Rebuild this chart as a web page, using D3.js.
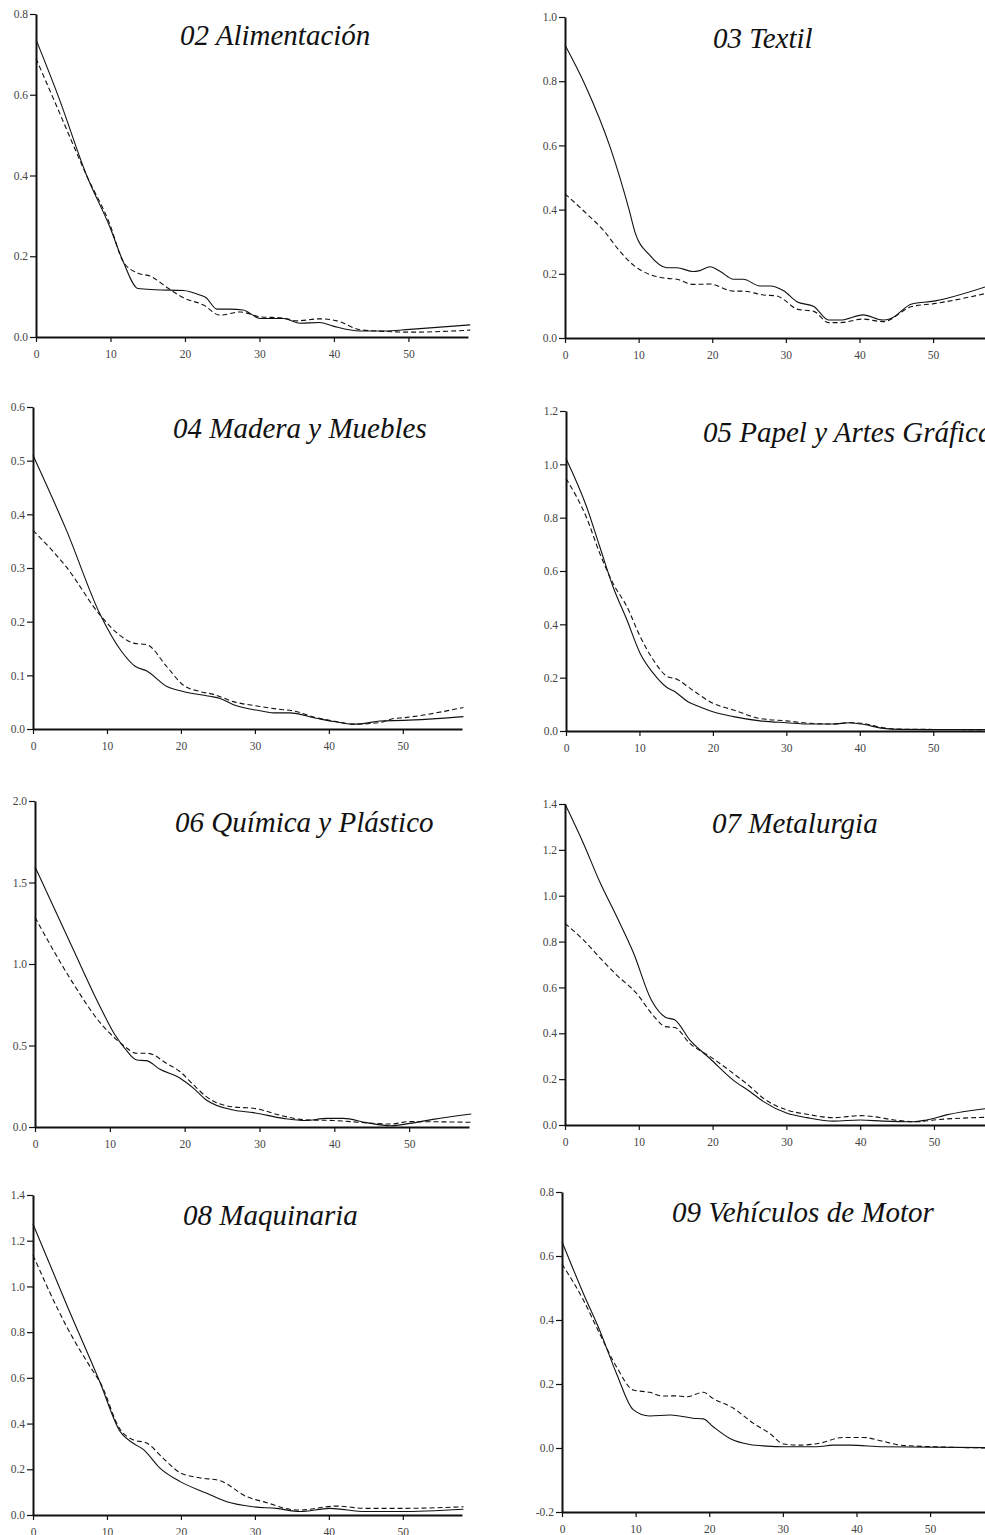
<!DOCTYPE html>
<html>
<head>
<meta charset="utf-8">
<script src="https://cdn.jsdelivr.net/npm/d3@7"></script>
<style>
  body { margin: 0; background: #fff; }
  svg { display: block; }
  .tick text { font-family: "Liberation Serif", "Times New Roman", serif; font-size: 11.5px; fill: #444; }
  .title { font-family: "Liberation Serif", "Times New Roman", serif; font-style: italic; font-size: 29px; fill: #111; }
</style>
</head>
<body>
<div id="chart"></div>
<script>
// Shared x axis ticks (quarters after the shock)
const X_TICKS = [0, 10, 20, 30, 40, 50];
const X_MAX = 58;

// Panel titles
const TITLES = [
    "02 Alimentación", "03 Textil",
    "04 Madera y Muebles", "05 Papel y Artes Gráficas",
    "06 Química y Plástico", "07 Metalurgia",
    "08 Maquinaria", "09 Vehículos de Motor"
];

// Y tick values per panel
const Y_TICKS = [
    [0, 0.2, 0.4, 0.6, 0.8],
    [0, 0.2, 0.4, 0.6, 0.8, 1.0],
    [0, 0.1, 0.2, 0.3, 0.4, 0.5, 0.6],
    [0, 0.2, 0.4, 0.6, 0.8, 1.0, 1.2],
    [0, 0.5, 1.0, 1.5, 2.0],
    [0, 0.2, 0.4, 0.6, 0.8, 1.0, 1.2, 1.4],
    [0, 0.2, 0.4, 0.6, 0.8, 1.0, 1.2, 1.4],
    [-0.2, 0, 0.2, 0.4, 0.6, 0.8]
];

// Solid series, [x, y]
const alimSolid = [[0,0.737],[3,0.596],[6.8,0.40],[9.9,0.273],[11.7,0.187],[13.7,0.12],[16,0.117],[19.8,0.115],[22,0.104],[22.8,0.098],[24.3,0.069],[26,0.069],[27.8,0.067],[30.1,0.046],[33.2,0.046],[35.4,0.034],[38.1,0.036],[39.9,0.027],[43.5,0.015],[46.6,0.015],[50.2,0.019],[58.3,0.030]];
const textilSolid = [[0,0.913],[2.7,0.79],[6.2,0.59],[8.7,0.40],[9.5,0.33],[11.5,0.258],[13.8,0.219],[15.2,0.219],[17.4,0.207],[18.3,0.21],[19.7,0.222],[21.1,0.207],[22.9,0.183],[24.2,0.183],[26.5,0.162],[27.9,0.162],[29.7,0.147],[31.5,0.113],[33.8,0.098],[35.8,0.056],[37.4,0.056],[40.5,0.072],[43.2,0.056],[44.2,0.06],[47.1,0.106],[50.1,0.115],[51.9,0.124],[58,0.166]];
const maderaSolid = [[0,0.51],[4.5,0.371],[9.2,0.21],[12,0.144],[13.8,0.117],[15.4,0.108],[18.1,0.079],[20.3,0.07],[23.9,0.061],[25.3,0.057],[27.1,0.045],[30.7,0.034],[32.5,0.03],[34.7,0.03],[38.3,0.02],[40.6,0.014],[43.3,0.009],[44.6,0.01],[46.9,0.015],[50.1,0.016],[58.2,0.023]];
const papelSolid = [[0,1.022],[2.8,0.841],[4.6,0.691],[6.4,0.541],[8.3,0.416],[10.1,0.291],[11.9,0.216],[13.7,0.164],[14.8,0.148],[16.6,0.11],[18.2,0.091],[20,0.072],[22.8,0.054],[26.4,0.038],[30,0.031],[33.2,0.026],[36.4,0.026],[38.6,0.031],[40.2,0.026],[43.2,0.01],[45.4,0.006],[50,0.005],[58,0.005]];
const quimicaSolid = [[0,1.597],[5.1,1.09],[8.7,0.738],[10.7,0.564],[12,0.483],[13.6,0.411],[14.9,0.407],[16.7,0.354],[19.4,0.299],[21.2,0.237],[22.9,0.166],[26.5,0.104],[29.2,0.088],[33.2,0.053],[36.1,0.04],[39,0.053],[41.2,0.053],[44.3,0.027],[47.5,0.008],[50.1,0.022],[53.2,0.047],[58.3,0.08]];
const metalSolid = [[0,1.4],[2.5,1.228],[4.8,1.054],[7,0.909],[9.3,0.749],[11.7,0.545],[13.6,0.47],[14.9,0.458],[16.9,0.371],[19.6,0.291],[22.8,0.196],[25.1,0.145],[26.9,0.102],[30.1,0.051],[32.8,0.032],[36.4,0.017],[40,0.022],[43.1,0.017],[47.2,0.014],[49,0.022],[51.7,0.044],[58,0.075]];
const maquiSolid = [[0,1.273],[4.55,0.92],[9,0.585],[11.8,0.364],[13.6,0.313],[14.9,0.287],[17.2,0.204],[19.9,0.146],[23.5,0.095],[26.2,0.058],[29.8,0.036],[32.9,0.029],[36.1,0.015],[40.1,0.029],[45,0.015],[49.6,0.015],[58.2,0.025]];
const vehicSolid = [[0,0.645],[2.9,0.483],[5.1,0.369],[7.4,0.233],[9.7,0.119],[11.9,0.10],[14.7,0.103],[16,0.10],[17.8,0.093],[19.2,0.091],[20.5,0.067],[22.8,0.03],[25.5,0.011],[27.8,0.006],[30.1,0.004],[34.6,0.004],[36.8,0.009],[39.1,0.009],[43.6,0.004],[58,0.001]];

// Dashed series, [x, y]
const alimDashed = [[0,0.69],[3,0.562],[6.8,0.40],[9.9,0.28],[11.7,0.187],[13.7,0.158],[15.3,0.151],[17.8,0.12],[19.8,0.097],[22.5,0.079],[24.7,0.054],[27.4,0.062],[30.1,0.05],[33.2,0.047],[35,0.04],[38.1,0.045],[40.4,0.04],[43.5,0.018],[46.6,0.014],[50.2,0.012],[58.3,0.017]];
const textilDashed = [[0,0.449],[2.9,0.388],[5.2,0.336],[7.5,0.269],[9.3,0.227],[11.5,0.198],[13.8,0.186],[15.2,0.183],[17.4,0.167],[19.7,0.168],[22.9,0.146],[24.2,0.146],[27,0.134],[28.8,0.131],[29.7,0.12],[31.5,0.09],[33.8,0.083],[35.8,0.048],[37.4,0.048],[40.5,0.059],[43.2,0.051],[47.1,0.098],[50.1,0.107],[58,0.143]];
const maderaDashed = [[0,0.37],[4.5,0.302],[9.2,0.21],[11.7,0.175],[13.6,0.16],[15.4,0.157],[18.1,0.116],[20.3,0.082],[22.5,0.07],[24.3,0.065],[27.1,0.051],[30.7,0.042],[33.8,0.036],[34.7,0.035],[38.3,0.021],[40.6,0.015],[43.3,0.009],[46.9,0.012],[48.6,0.019],[50.1,0.021],[58.2,0.040]];
const papelDashed = [[0,0.947],[2.8,0.80],[4.6,0.666],[6.4,0.554],[8.3,0.466],[10.1,0.354],[11.9,0.266],[13.7,0.206],[15.1,0.194],[16.9,0.16],[20,0.104],[22.8,0.079],[26.4,0.047],[30,0.038],[33.2,0.029],[36.4,0.026],[38.2,0.031],[40.2,0.029],[43.2,0.012],[45.4,0.007],[58,0.005]];
const quimicaDashed = [[0,1.286],[5.1,0.881],[8.7,0.64],[10.7,0.544],[12,0.494],[13.6,0.452],[15.1,0.452],[17.6,0.39],[19.4,0.339],[21.2,0.258],[22.9,0.186],[26.5,0.123],[29.2,0.115],[33.2,0.067],[36.1,0.044],[39.9,0.04],[42.1,0.033],[47.5,0.018],[50.1,0.033],[58.3,0.029]];
const metalDashed = [[0,0.879],[2.5,0.807],[4.8,0.727],[7,0.654],[9.7,0.574],[11.9,0.48],[13.6,0.429],[14.9,0.425],[16.9,0.356],[19.6,0.30],[22.8,0.225],[25.1,0.167],[26.9,0.116],[30.1,0.065],[32.8,0.047],[36.4,0.032],[40,0.041],[41.9,0.036],[44.6,0.022],[47.7,0.014],[50,0.022],[58,0.034]];
const maquiDashed = [[0,1.137],[4.55,0.824],[8.5,0.61],[9,0.585],[11.8,0.374],[13.6,0.328],[15.3,0.316],[17.6,0.248],[19.9,0.185],[22.5,0.163],[25.3,0.15],[28.9,0.08],[31.6,0.054],[34.7,0.025],[36.1,0.022],[41,0.039],[45,0.029],[49.6,0.029],[58.2,0.036]];
const vehicDashed = [[0,0.575],[2.9,0.4625],[5.1,0.358],[7.4,0.254],[9.7,0.181],[11.9,0.174],[13.7,0.1625],[15.6,0.163],[16.9,0.16],[19.2,0.174],[20.5,0.155],[23.3,0.124],[26,0.077],[28.2,0.046],[30.1,0.0125],[32.3,0.009],[35,0.015],[38.2,0.033],[40.9,0.033],[43.6,0.021],[45.9,0.009],[50.4,0.004],[58,0]];

const SOLID = [alimSolid, textilSolid, maderaSolid, papelSolid, quimicaSolid, metalSolid, maquiSolid, vehicSolid];
const DASHED = [alimDashed, textilDashed, maderaDashed, papelDashed, quimicaDashed, metalDashed, maquiDashed, vehicDashed];

// Layout of each panel: axis origin, top, bottom, plot width, title anchor
const LAYOUT = [
    {left: 36,  top: 14,   bottom: 337,  width: 432, tx: 180, ty: 45},
    {left: 565, top: 17,   bottom: 338,  width: 427, tx: 713, ty: 48},
    {left: 33,  top: 407,  bottom: 729,  width: 429, tx: 173, ty: 438},
    {left: 566, top: 411,  bottom: 731,  width: 426, tx: 703, ty: 442},
    {left: 35,  top: 801,  bottom: 1127, width: 434, tx: 175, ty: 832},
    {left: 565, top: 804,  bottom: 1125, width: 428, tx: 712, ty: 833},
    {left: 33,  top: 1195, bottom: 1515, width: 429, tx: 183, ty: 1225},
    {left: 562, top: 1192, bottom: 1512, width: 427, tx: 672, ty: 1222}
];

const svg = d3.select('#chart').append('svg')
    .attr('width', 985)
    .attr('height', 1535);

TITLES.forEach((title, i) => {
    const L = LAYOUT[i];
    const yTicks = Y_TICKS[i];

    const x = d3.scaleLinear().domain([0, X_MAX]).range([L.left, L.left + L.width]);
    const y = d3.scaleLinear()
        .domain([yTicks[0], yTicks[yTicks.length - 1]])
        .range([L.bottom, L.top]);

    const g = svg.append('g');

    // y axis
    const yAxis = g.append('g')
        .attr('transform', `translate(${L.left},0)`)
        .call(d3.axisLeft(y).tickValues(yTicks).tickSize(6).tickSizeOuter(0).tickPadding(2)
            .tickFormat(d => d.toFixed(1)));

    // x axis
    const xAxis = g.append('g')
        .attr('transform', `translate(0,${L.bottom})`)
        .call(d3.axisBottom(x).tickValues(X_TICKS).tickSize(5).tickSizeOuter(0).tickPadding(8)
            .tickFormat(d3.format('d')));

    [yAxis, xAxis].forEach(ax => {
        ax.select('.domain').attr('stroke', '#111').attr('stroke-width', 2);
        ax.selectAll('.tick line').attr('stroke', '#111').attr('stroke-width', 1.2);
        ax.selectAll('text').attr('font-family', null).attr('font-size', null).attr('fill', null);
    });

    const line = d3.line()
        .x(d => x(d[0]))
        .y(d => y(d[1]))
        .curve(d3.curveMonotoneX);

    g.append('path')
        .datum(DASHED[i])
        .attr('fill', 'none')
        .attr('stroke', '#111')
        .attr('stroke-width', 1.1)
        .attr('stroke-dasharray', '5,3')
        .attr('d', line);

    g.append('path')
        .datum(SOLID[i])
        .attr('fill', 'none')
        .attr('stroke', '#111')
        .attr('stroke-width', 1.1)
        .attr('d', line);

    g.append('text')
        .attr('class', 'title')
        .attr('x', L.tx)
        .attr('y', L.ty)
        .text(title);
});
</script>
</body>
</html>
